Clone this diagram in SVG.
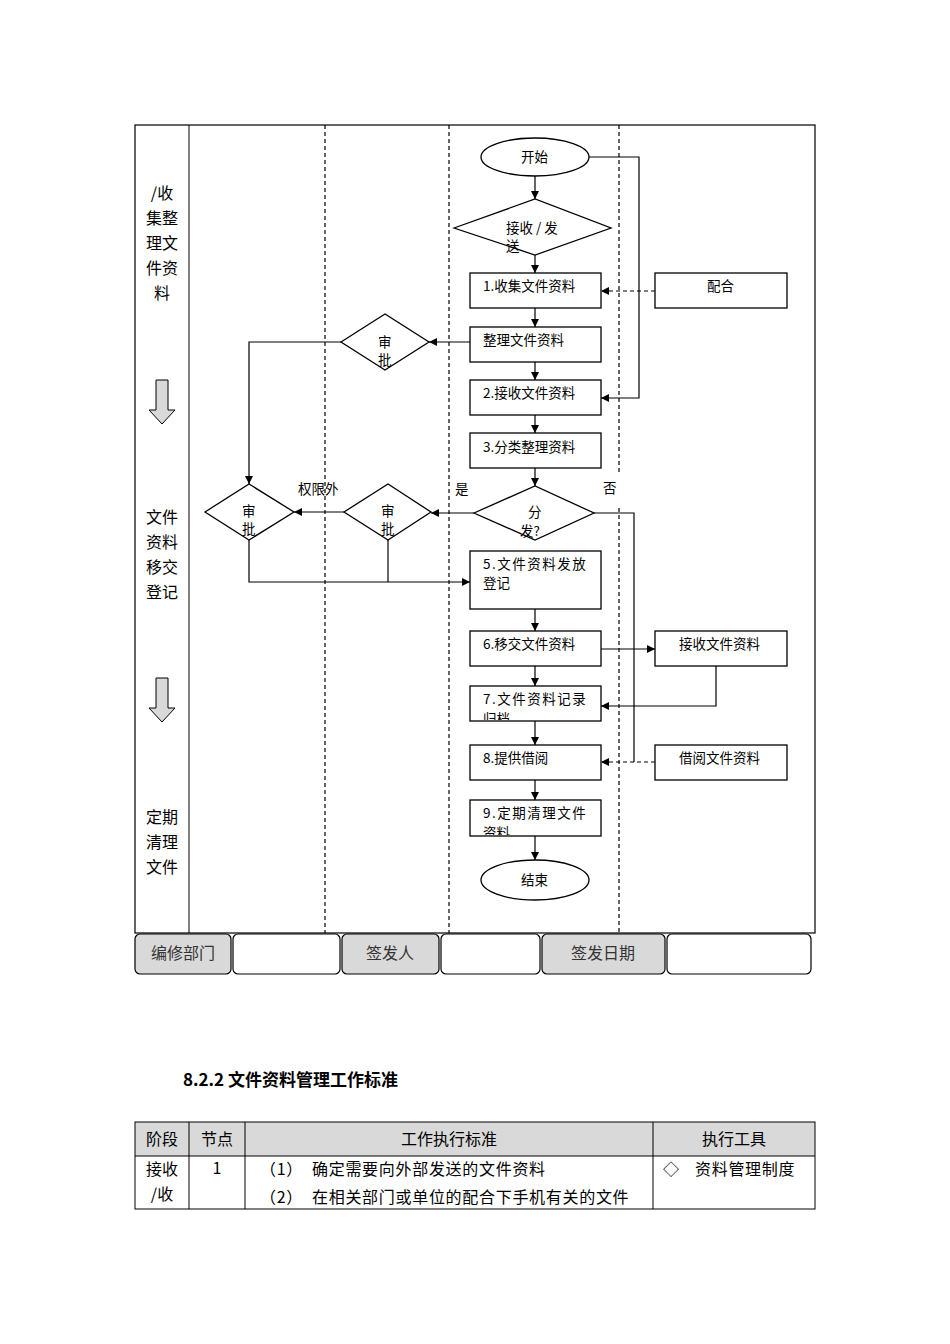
<svg xmlns="http://www.w3.org/2000/svg" width="950" height="1344" viewBox="0 0 950 1344">
<style>
text{font-family:"Noto Sans CJK SC","Liberation Sans",sans-serif;fill:#000}
.n{fill:#fff;stroke:#000;stroke-width:1.3}
.t{font-size:13.5px}
.l{font-size:16px;text-anchor:middle}
.c{fill:none;stroke:#000;stroke-width:1.2}
.d{fill:none;stroke:#000;stroke-width:1.2;stroke-dasharray:4,3}
.g{fill:#d9d9d9;stroke:#000;stroke-width:1.2}
.w{fill:#fff;stroke:#000;stroke-width:1.2}
.b{font-size:16px;text-anchor:middle;fill:#333}
.r{font-size:16px;letter-spacing:0.7px}
</style>
<defs>
<marker id="a" viewBox="0 0 10 10" refX="10" refY="5" markerWidth="8" markerHeight="8" orient="auto" markerUnits="userSpaceOnUse"><path d="M0,0L10,5L0,10z"/></marker>
<clipPath id="c7"><rect x="470" y="686" width="131" height="34"/></clipPath>
<clipPath id="c9"><rect x="470" y="800" width="131" height="35"/></clipPath>
</defs>
<rect width="950" height="1344" fill="#fff"/>
<g id="frame">
<rect x="135" y="125" width="680" height="808" fill="none" stroke="#000" stroke-width="1.2"/>
<line x1="189" y1="125" x2="189" y2="933" stroke="#000"/>
<line x1="325" y1="125" x2="325" y2="933" class="d"/>
<line x1="449" y1="125" x2="449" y2="933" class="d"/>
<line x1="619" y1="125" x2="619" y2="472" class="d"/>
<line x1="619" y1="508" x2="619" y2="933" class="d"/>
<text class="l" x="162" y="199">/收</text>
<text class="l" x="162" y="224">集整</text>
<text class="l" x="162" y="249">理文</text>
<text class="l" x="162" y="274">件资</text>
<text class="l" x="162" y="299">料</text>
<text class="l" x="162" y="523">文件</text>
<text class="l" x="162" y="548">资料</text>
<text class="l" x="162" y="573">移交</text>
<text class="l" x="162" y="598">登记</text>
<text class="l" x="162" y="823">定期</text>
<text class="l" x="162" y="848">清理</text>
<text class="l" x="162" y="873">文件</text>
<path d="M156,380h12v30h7l-13,14l-13,-14h7z" fill="#d9d9d9" stroke="#000"/>
<path d="M156,678h12v30h7l-13,14l-13,-14h7z" fill="#d9d9d9" stroke="#000"/>
</g>
<g id="connectors">
<line x1="535" y1="176" x2="535" y2="199" class="c" marker-end="url(#a)"/>
<line x1="535" y1="255" x2="535" y2="273" class="c" marker-end="url(#a)"/>
<line x1="535" y1="308" x2="535" y2="327" class="c" marker-end="url(#a)"/>
<line x1="535" y1="362" x2="535" y2="380" class="c" marker-end="url(#a)"/>
<line x1="535" y1="415" x2="535" y2="433" class="c" marker-end="url(#a)"/>
<line x1="535" y1="468" x2="535" y2="486" class="c" marker-end="url(#a)"/>
<line x1="535" y1="609" x2="535" y2="631" class="c" marker-end="url(#a)"/>
<line x1="535" y1="666" x2="535" y2="686" class="c" marker-end="url(#a)"/>
<line x1="535" y1="721" x2="535" y2="745" class="c" marker-end="url(#a)"/>
<line x1="535" y1="780" x2="535" y2="800" class="c" marker-end="url(#a)"/>
<line x1="535" y1="836" x2="535" y2="860" class="c" marker-end="url(#a)"/>
<path d="M589,157H639V398H601" class="c" marker-end="url(#a)"/>
<path d="M655,291H601" class="d" marker-end="url(#a)"/>
<path d="M470,342H429" class="c" marker-end="url(#a)"/>
<path d="M341,342H249V484" class="c" marker-end="url(#a)"/>
<path d="M474,513H431" class="c" marker-end="url(#a)"/>
<path d="M344,512H294" class="c" marker-end="url(#a)"/>
<path d="M249,540V582H470" class="c" marker-end="url(#a)"/>
<path d="M388,540V582" class="c"/>
<path d="M594,513H634V762" class="c"/>
<path d="M655,762H601" class="d" marker-end="url(#a)"/>
<path d="M601,649H655" class="c" marker-end="url(#a)"/>
<path d="M716,666V706H601" class="c" marker-end="url(#a)"/>
<text class="t" x="298" y="494">权限外</text>
<text class="t" x="455" y="494">是</text>
<text class="t" x="603" y="493">否</text>
</g>
<g id="start"><ellipse class="n" cx="535" cy="157" rx="54" ry="19"/><text class="t" x="521" y="162">开始</text></g>
<g id="decide1"><polygon class="n" points="454,228 535,199 611,228 535,255"/><text class="t" x="506" y="233">接收 / 发</text><text class="t" x="506" y="251">送</text></g>
<g id="n1"><rect class="n" x="470" y="273" width="131" height="35"/><text class="t" x="483" y="291">1.收集文件资料</text></g>
<g id="n2"><rect class="n" x="470" y="327" width="131" height="35"/><text class="t" x="483" y="345">整理文件资料</text></g>
<g id="n3"><rect class="n" x="470" y="380" width="131" height="35"/><text class="t" x="483" y="398">2.接收文件资料</text></g>
<g id="n4"><rect class="n" x="470" y="433" width="131" height="35"/><text class="t" x="483" y="452">3.分类整理资料</text></g>
<g id="decide2"><polygon class="n" points="474,513 535,486 594,513 535,540"/><text class="t" x="528" y="517">分</text><text class="t" x="520" y="536">发?</text></g>
<g id="approve1"><polygon class="n" points="341,342 385,314 429,342 385,370"/><text class="t" x="378" y="347">审</text><text class="t" x="378" y="365">批</text></g>
<g id="approve2"><polygon class="n" points="344,512 388,484 431,512 388,540"/><text class="t" x="381" y="516">审</text><text class="t" x="381" y="534">批</text></g>
<g id="approve3"><polygon class="n" points="205,512 249,484 294,512 249,540"/><text class="t" x="242" y="516">审</text><text class="t" x="242" y="534">批</text></g>
<g id="n5"><rect class="n" x="470" y="551" width="131" height="58"/><text class="t" x="483" y="569" letter-spacing="1.5">5.文件资料发放</text><text class="t" x="483" y="588">登记</text></g>
<g id="n6"><rect class="n" x="470" y="631" width="131" height="35"/><text class="t" x="483" y="649">6.移交文件资料</text></g>
<g id="n7"><rect class="n" x="470" y="686" width="131" height="35"/><text class="t" x="483" y="704" letter-spacing="1.5">7.文件资料记录</text><text class="t" x="483" y="724" clip-path="url(#c7)">归档</text></g>
<g id="n8"><rect class="n" x="470" y="745" width="131" height="35"/><text class="t" x="483" y="763">8.提供借阅</text></g>
<g id="n9"><rect class="n" x="470" y="800" width="131" height="36"/><text class="t" x="483" y="818" letter-spacing="1.5">9.定期清理文件</text><text class="t" x="483" y="838" clip-path="url(#c9)">资料</text></g>
<g id="end"><ellipse class="n" cx="535" cy="880" rx="54" ry="20"/><text class="t" x="521" y="885">结束</text></g>
<g id="peihe"><rect class="n" x="655" y="273" width="132" height="35"/><text class="t" x="707" y="291">配合</text></g>
<g id="jieshou"><rect class="n" x="655" y="631" width="132" height="35"/><text class="t" x="679" y="649">接收文件资料</text></g>
<g id="jieyue"><rect class="n" x="655" y="745" width="132" height="35"/><text class="t" x="679" y="763">借阅文件资料</text></g>
<g id="footer">
<rect class="g" x="135" y="934" width="96" height="40" rx="5"/><text class="b" x="183" y="959">编修部门</text>
<rect class="w" x="233" y="934" width="107" height="40" rx="5"/>
<rect class="g" x="342" y="934" width="97" height="40" rx="5"/><text class="b" x="390" y="959">签发人</text>
<rect class="w" x="441" y="934" width="99" height="40" rx="5"/>
<rect class="g" x="542" y="934" width="123" height="40" rx="5"/><text class="b" x="603" y="959">签发日期</text>
<rect class="w" x="667" y="934" width="144" height="40" rx="5"/>
</g>
<g id="standard">
<text x="183" y="1086" font-size="17" font-weight="bold">8.2.2 文件资料管理工作标准</text>
<rect x="135" y="1122" width="680" height="34" fill="#d9d9d9"/>
<rect x="135" y="1122" width="680" height="87" fill="none" stroke="#000"/>
<line x1="135" y1="1156" x2="815" y2="1156" stroke="#000"/>
<line x1="189" y1="1122" x2="189" y2="1209" stroke="#000"/>
<line x1="245" y1="1122" x2="245" y2="1209" stroke="#000"/>
<line x1="653" y1="1122" x2="653" y2="1209" stroke="#000"/>
<text class="l" x="162" y="1145">阶段</text>
<text class="l" x="217" y="1145">节点</text>
<text class="l" x="449" y="1145">工作执行标准</text>
<text class="l" x="734" y="1145">执行工具</text>
<text class="l" x="162" y="1175">接收</text>
<text class="l" x="162" y="1200">/收</text>
<text class="l" x="217" y="1174">1</text>
<text class="r" x="260" y="1175">（1）</text><text class="r" x="312" y="1175">确定需要向外部发送的文件资料</text>
<text class="r" x="260" y="1203">（2）</text><text class="r" x="312" y="1203">在相关部门或单位的配合下手机有关的文件</text>
<text x="663" y="1175" font-size="16">◇</text><text class="r" x="695" y="1175">资料管理制度</text>
</g>
</svg>
